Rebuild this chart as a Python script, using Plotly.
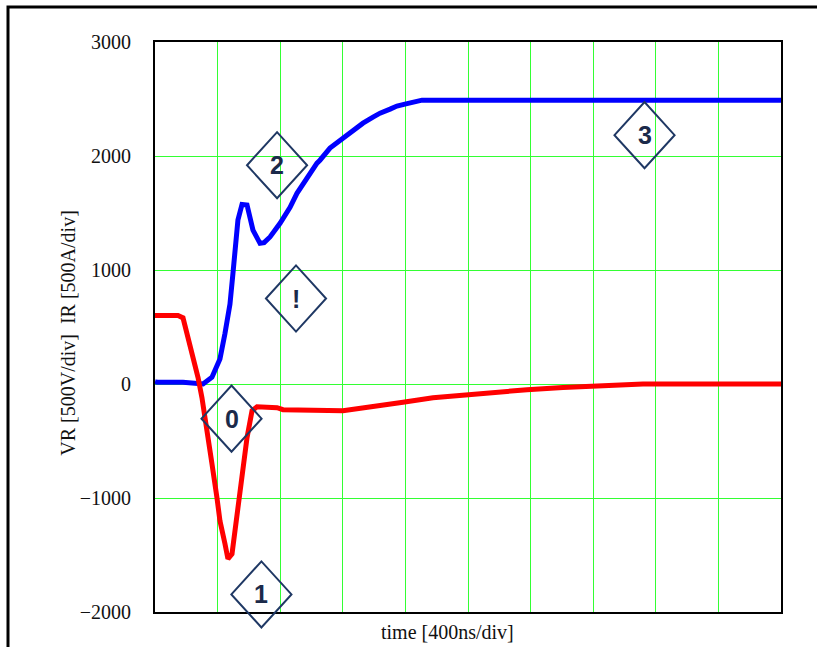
import plotly.graph_objects as go

# ---- data (time in ns, value in V / A) ----
ir_time = [0, 13, 179, 288, 307, 364, 415, 447, 479, 498, 511, 530, 556, 588, 626, 671, 697, 735,
           799, 863, 907, 971, 1035, 1054, 1118, 1201, 1265, 1329, 1393, 1438, 1502, 1546, 1597,
           1630, 1674, 1706, 4000]
ir_vals = [20, 15, 15, 10, 0, 60, 220, 443, 700, 970, 1200, 1440, 1575, 1570, 1350, 1234, 1240, 1290,
           1410, 1550, 1673, 1814, 1937, 1963, 2069, 2156, 2227, 2288, 2341, 2376, 2411, 2438, 2455,
           2464, 2475, 2490, 2490]

vr_time = [0, 147, 179, 204, 243, 275, 300, 320, 364, 396, 415, 447, 466, 492, 511, 530, 556, 588,
           620, 652, 780, 818, 1201, 1457, 1585, 1776, 1994, 2141, 2377, 2607, 2799, 3118, 4000]
vr_vals = [600, 600, 580, 443, 267, 56, -120, -322, -700, -998, -1200, -1402, -1534, -1490, -1288,
           -1086, -735, -471, -234, -200, -208, -225, -234, -190, -160, -120, -93, -75, -50, -30, -15, 0, 0]

marker_labels = ["0", "1", "2", "!", "3"]
marker_time = [489, 680, 780, 901, 3128]
marker_vals = [-304, -1846, 1919, 750, 2183]

x_range = [0, 4000]
y_range = [-2000, 3000]
x_grid_step = 400
y_ticks = [-2000, -1000, 0, 1000, 2000, 3000]

fig = go.Figure()
fig.add_trace(go.Scatter(x=ir_time, y=ir_vals, mode="lines",
                         line=dict(color="#0000FF", width=5), name="IR"))
fig.add_trace(go.Scatter(x=vr_time, y=vr_vals, mode="lines",
                         line=dict(color="#FF0000", width=5), name="VR"))

# diamond callouts (converted to paper coords so they are not clipped)
half_w = 192   # ns
half_h = 290   # value units
def px(v):
    return (v - x_range[0]) / (x_range[1] - x_range[0])
def py(v):
    return (v - y_range[0]) / (y_range[1] - y_range[0])

for lab, t, v in zip(marker_labels, marker_time, marker_vals):
    path = (f"M {px(t - half_w)} {py(v)} L {px(t)} {py(v + half_h)} "
            f"L {px(t + half_w)} {py(v)} L {px(t)} {py(v - half_h)} Z")
    fig.add_shape(type="path", path=path, xref="paper", yref="paper",
                  line=dict(color="#1F3864", width=2), layer="above")
    fig.add_annotation(x=t, y=v, xref="x", yref="y", text=f"<b>{lab}</b>", showarrow=False,
                       font=dict(family="Liberation Sans, Arial", size=25, color="#1B2A4A"))

# outer frame
fig.add_shape(type="rect", xref="paper", yref="paper",
              x0=(8 - 155) / 626, x1=(840 - 155) / 626,
              y0=-(680 - 612) / 570, y1=1 + (42 - 7) / 570,
              line=dict(color="black", width=3), layer="below")

fig.add_annotation(xref="paper", yref="paper", x=(447 - 155) / 626, y=-(632 - 612) / 570,
                   text="time [400ns/div]", showarrow=False, xanchor="center", yanchor="middle",
                   font=dict(family="Liberation Serif, Times New Roman", size=20, color="#111"))
fig.add_annotation(xref="paper", yref="paper", x=(68 - 155) / 626, y=0.49,
                   text="VR [500V/div]  IR [500A/div]", showarrow=False, textangle=-90,
                   xanchor="center", yanchor="middle",
                   font=dict(family="Liberation Serif, Times New Roman", size=20, color="#111"))

fig.update_layout(
    width=817, height=647,
    margin=dict(l=155, r=36, t=42, b=35),
    paper_bgcolor="white", plot_bgcolor="white",
    showlegend=False,
    font=dict(family="Liberation Serif, Times New Roman", size=20, color="#111"),
)
fig.update_xaxes(range=x_range, dtick=x_grid_step, tick0=0, showticklabels=False, ticks="",
                 showgrid=True, gridcolor="#33FF33", gridwidth=1, zeroline=False,
                 showline=True, linecolor="black", linewidth=2, mirror=True)
fig.update_yaxes(range=y_range, tickvals=y_ticks, ticks="", ticklabelstandoff=18,
                 showgrid=True, gridcolor="#33FF33", gridwidth=1, zeroline=False,
                 showline=True, linecolor="black", linewidth=2, mirror=True,
                 tickfont=dict(family="Liberation Serif, Times New Roman", size=20, color="#111"))

fig.write_html("out.html")
